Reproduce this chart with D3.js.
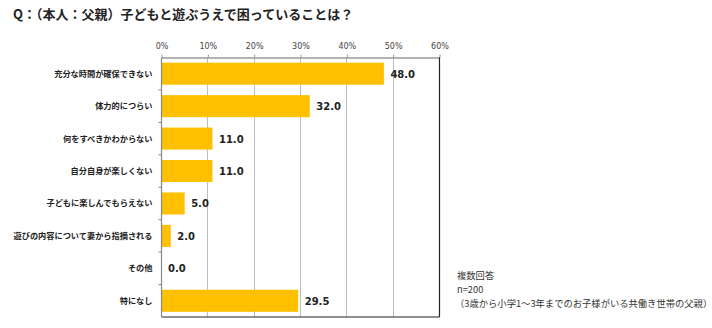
<!DOCTYPE html>
<html>
<head>
<meta charset="utf-8">
<script src="https://cdn.jsdelivr.net/npm/d3@7"></script>
<style>
  body { margin: 0; background: #fff; overflow: hidden; }
  svg { display: block; }
</style>
</head>
<body>
<script>
var width = 712, height = 328;

var categories = ['充分な時間が確保できない', '体力的につらい', '何をすべきかわからない', '自分自身が楽しくない',
  '子どもに楽しんでもらえない', '遊びの内容について妻から指摘される', 'その他', '特になし'];
var values = [48.0, 32.0, 11.0, 11.0, 5.0, 2.0, 0.0, 29.5];
var tickValues = [0, 10, 20, 30, 40, 50, 60];
var title = 'Q：（本人：父親）子どもと遊ぶうえで困っていることは？';
var notes = ['複数回答', 'n=200', '（3歳から小学1～3年までのお子様がいる共働き世帯の父親）'];

var margin = {top: 57.5, left: 161.5, right: 272.5, bottom: 11};
var innerWidth = width - margin.left - margin.right;
var innerHeight = height - margin.top - margin.bottom;

var jp = '"Noto Sans CJK JP", sans-serif';
var num = '"DejaVu Sans", Verdana, sans-serif';

var svg = d3.select('body').append('svg')
  .attr('width', width)
  .attr('height', height);

svg.append('text')
  .attr('x', 13)
  .attr('y', 19)
  .style('font-family', jp)
  .style('font-weight', 'bold')
  .style('font-size', '13px')
  .style('fill', '#222')
  .text(title);

var x = d3.scaleLinear().domain([0, 60]).range([0, innerWidth]);
var y = d3.scaleBand().domain(categories).range([0, innerHeight]).paddingInner(0.32).paddingOuter(0.16);
var yBand = d3.scaleBand().domain(categories).range([0, innerHeight]);

var g = svg.append('g')
  .attr('transform', 'translate(' + margin.left + ',' + margin.top + ')');

//Vertical gridlines
g.selectAll('.grid').data(tickValues.slice(1, -1)).enter().append('line')
  .attr('class', 'grid')
  .attr('x1', function(d) { return Math.round(x(d)); })
  .attr('x2', function(d) { return Math.round(x(d)); })
  .attr('y1', 0)
  .attr('y2', innerHeight)
  .style('stroke', '#bdbdbd')
  .style('stroke-width', '1px');

//Top axis
var xAxis = g.append('g')
  .call(d3.axisTop(x).tickValues(tickValues).tickSize(3).tickSizeOuter(0)
    .tickFormat(function(d) { return d + '%'; }));
xAxis.select('.domain').style('stroke', '#999').style('stroke-width', '1.5px');
xAxis.selectAll('.tick line').style('stroke', '#999');
xAxis.selectAll('.tick text')
  .attr('y', -9)
  .style('font-family', num)
  .style('font-size', '8px')
  .style('fill', '#444');

//Right and bottom frame
g.append('line')
  .attr('x1', innerWidth).attr('x2', innerWidth)
  .attr('y1', 0).attr('y2', innerHeight)
  .style('stroke', '#222').style('stroke-width', '1.2px');
g.append('line')
  .attr('x1', 0).attr('x2', innerWidth)
  .attr('y1', innerHeight).attr('y2', innerHeight)
  .style('stroke', '#222').style('stroke-width', '1.2px');

//Bars
g.selectAll('.bar').data(values).enter().append('rect')
  .attr('class', 'bar')
  .attr('x', 0)
  .attr('y', function(d, i) { return y(categories[i]); })
  .attr('width', function(d) { return x(d); })
  .attr('height', y.bandwidth())
  .style('fill', '#ffc000');

//Left axis with ticks between categories
g.append('line')
  .attr('x1', 0).attr('x2', 0)
  .attr('y1', 0).attr('y2', innerHeight)
  .style('stroke', '#888').style('stroke-width', '1.2px');
g.selectAll('.ytick').data(categories.slice(1)).enter().append('line')
  .attr('class', 'ytick')
  .attr('x1', -3).attr('x2', 0)
  .attr('y1', function(d) { return yBand(d); })
  .attr('y2', function(d) { return yBand(d); })
  .style('stroke', '#888');

g.selectAll('.cat').data(categories).enter().append('text')
  .attr('class', 'cat')
  .attr('x', -9)
  .attr('y', function(d) { return y(d) + y.bandwidth() / 2 + 3; })
  .attr('text-anchor', 'end')
  .style('font-family', jp)
  .style('font-weight', 'bold')
  .style('font-size', '8.2px')
  .style('fill', '#222')
  .text(function(d) { return d; });

//Value labels
g.selectAll('.val').data(values).enter().append('text')
  .attr('class', 'val')
  .attr('x', function(d) { return x(d) + 6.5; })
  .attr('y', function(d, i) { return y(categories[i]) + y.bandwidth() / 2 + 4; })
  .style('font-family', num)
  .style('font-weight', 'bold')
  .style('font-size', '10px')
  .style('fill', '#222')
  .text(function(d) { return d.toFixed(1); });

//Survey notes
svg.selectAll('.note').data(notes).enter().append('text')
  .attr('class', 'note')
  .attr('x', function(d, i) { return i === 2 ? 455 : 457; })
  .attr('y', function(d, i) { return 279 + i * 14; })
  .style('font-family', jp)
  .style('font-size', '9.3px')
  .style('fill', '#333')
  .text(function(d) { return d; });
</script>
</body>
</html>
